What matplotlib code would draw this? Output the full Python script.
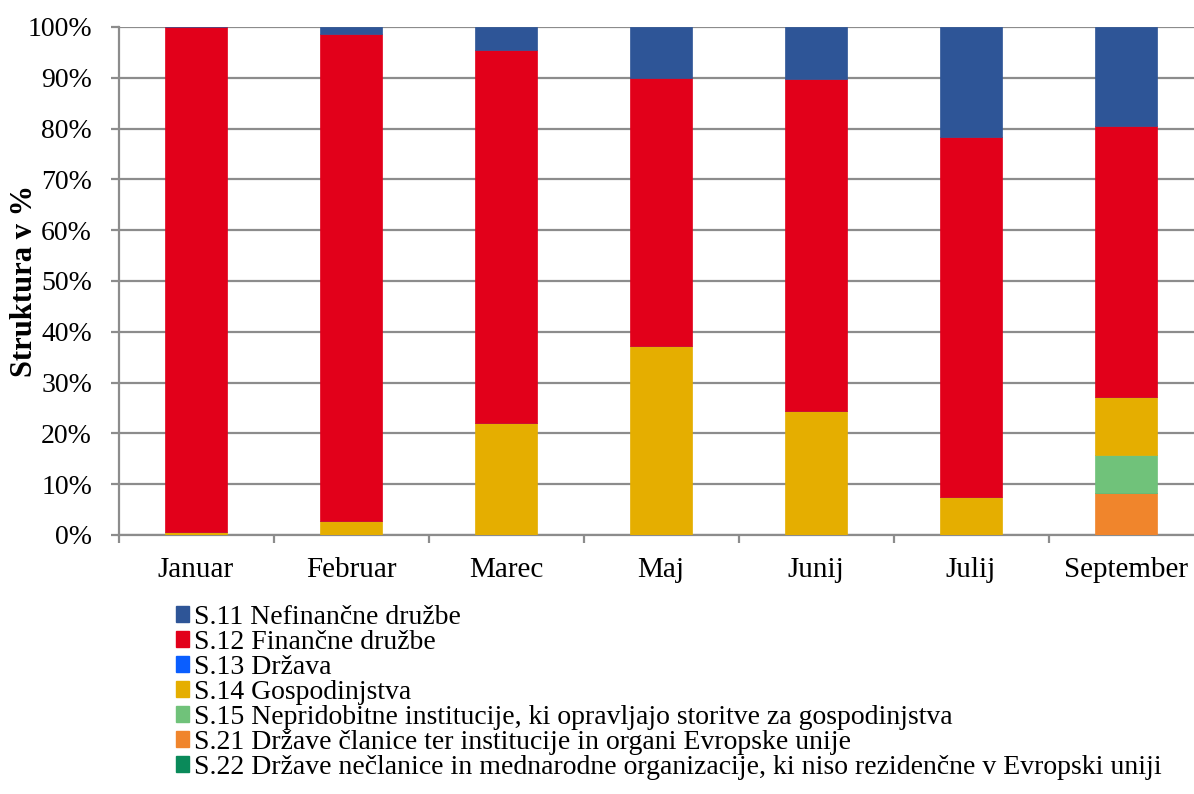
import numpy as np
import matplotlib.pyplot as plt
from matplotlib.patches import Patch

plt.rcParams['font.family'] = ['Liberation Serif', 'DejaVu Serif']

# months and sector shares (in %)
months = ["Januar", "Februar", "Marec", "Maj", "Junij", "Julij", "September"]
sectors = [
    "S.11 Nefinančne družbe",
    "S.12 Finančne družbe",
    "S.13 Država",
    "S.14 Gospodinjstva",
    "S.15 Nepridobitne institucije, ki opravljajo storitve za gospodinjstva",
    "S.21 Države članice ter institucije in organi Evropske unije",
    "S.22 Države nečlanice in mednarodne organizacije, ki niso rezidenčne v Evropski uniji",
]
colors = ["#2E5597", "#E2001A", "#0A5EFF", "#E5AE00", "#70C27A", "#F0852C", "#0A8A5A"]

s11 = [0.0, 1.3, 4.5, 10.1, 10.3, 21.7, 19.4]
s12 = [99.4, 96.0, 73.5, 52.7, 65.3, 70.8, 53.5]
s13 = [0.0, 0.0, 0.0, 0.0, 0.0, 0.0, 0.0]
s14 = [0.6, 2.7, 22.0, 37.2, 24.4, 7.5, 11.4]
s15 = [0.0, 0.0, 0.0, 0.0, 0.0, 0.0, 7.4]
s21 = [0.0, 0.0, 0.0, 0.0, 0.0, 0.0, 8.3]
s22 = [0.0, 0.0, 0.0, 0.0, 0.0, 0.0, 0.0]

# stacking order from the bottom up
stack = [(s21, 5), (s22, 6), (s15, 4), (s14, 3), (s13, 2), (s12, 1), (s11, 0)]

fig = plt.figure(figsize=(11.94, 7.94), dpi=100)
ax = fig.add_axes([118.5 / 1194, 1 - 535 / 794, (1203.5 - 118.5) / 1194, 508 / 794])

x = np.arange(len(months))
bottom = np.zeros(len(months))
for vals, ci in stack:
    vals = np.array(vals)
    ax.bar(x, vals, width=0.4, bottom=bottom, color=colors[ci],
           edgecolor=colors[ci], linewidth=0.5, zorder=3)
    bottom += vals

ax.set_xlim(-0.5, len(months) - 0.5)
ax.set_ylim(0, 100)
ax.set_yticks(np.arange(0, 101, 10))
ax.set_yticklabels([f"{v}%" for v in range(0, 101, 10)])
ax.set_xticks(x)
ax.set_xticklabels(months)
ax.set_xticks(np.arange(-0.5, len(months), 1), minor=True)

ax.grid(axis='y', color='#8C8C8C', linewidth=1.6, zorder=0)
for side in ['top', 'right']:
    ax.spines[side].set_visible(False)
for side in ['left', 'bottom']:
    ax.spines[side].set_color('#8C8C8C')
    ax.spines[side].set_linewidth(1.6)

ax.tick_params(axis='y', length=6, width=1.6, color='#8C8C8C', pad=13, labelsize=20)
ax.tick_params(axis='x', which='major', length=0, pad=16, labelsize=21)
ax.tick_params(axis='x', which='minor', length=6, width=1.6, color='#8C8C8C')

ax.set_ylabel("Struktura v %", fontsize=22, fontweight='bold', va='center')
ax.yaxis.set_label_coords(-0.087, 0.5)

handles = [Patch(facecolor=c, edgecolor=c) for c in colors]
fig.legend(handles, sectors, loc='upper left', bbox_to_anchor=(0.147, 0.238),
           frameon=False, fontsize=20, handlelength=0.5, handleheight=0.5,
           handletextpad=0.15, labelspacing=0.0, borderaxespad=0, borderpad=0)

fig.savefig("out.png", dpi=100)
